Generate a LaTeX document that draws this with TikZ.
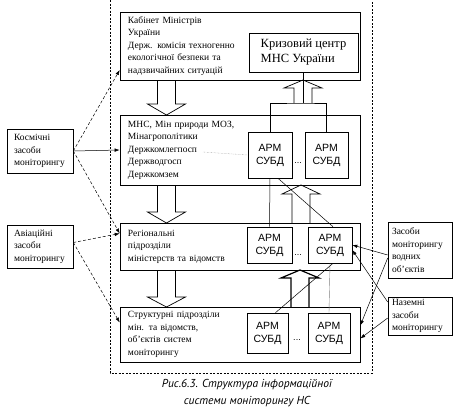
\documentclass[tikz,border=0pt]{standalone}
\usepackage{fontspec}
\setmainfont{Liberation Serif}
\newfontfamily\armfont{Liberation Sans}
\newfontfamily\capfont{PT Sans}
\usetikzlibrary{arrows.meta}

\tikzset{
  panel/.style={draw, line width=0.6pt, align=left, text width=224pt, inner xsep=8pt, inner ysep=0pt,
    font=\fontsize{9.5}{12.5}\selectfont},
  side/.style={draw, line width=0.6pt, align=left, text width=52pt, inner xsep=7pt, inner ysep=0pt,
    font=\fontsize{9.5}{12.5}\selectfont},
  arm/.style={draw, line width=0.6pt, minimum width=44pt, align=center, inner sep=0pt,
    font=\armfont\fontsize{10.5}{13}\selectfont},
  fat/.style={line width=0.7pt},
  link/.style={-{Latex[length=5pt,width=3.5pt]}, line width=0.5pt},
  frame/.style={line width=0.6pt, dash pattern=on 2pt off 1.5pt},
}
% centre x, tail y, base of head y, tip y
\newcommand{\fatarrow}[5][]{%
  \draw[fat,#1] (#2-9,#3) -- (#2-9,#4) -- (#2-19,#4) -- (#2,#5) -- (#2+19,#4) -- (#2+9,#4) -- (#2+9,#3);}

\begin{document}
\begin{tikzpicture}[x=1pt,y=-1pt]
  \useasboundingbox (0,0) rectangle (459,416);
  \draw[frame] (110,0) -- (110,373) -- (372,373) -- (372,0);

  % main levels
  \node[panel, minimum height=68pt] (kab) at (240,46)
    {Кабінет Міністрів\\України\\Держ. комісія техногенно\\екологічної безпеки та\\надзвичайних ситуацій};
  \node[draw, line width=0.6pt, minimum width=109pt, minimum height=39pt, align=left,
    font=\fontsize{12.5}{15}\selectfont] (kriz) at (303.5,52.5) {Кризовий центр\\МНС України};
  \node[panel, minimum height=70pt] (mns) at (240,150)
    {МНС, Мін природи МОЗ,\\Мінагрополітики\\Держкомлегпосп\\Держводгосп\\Держкомзем};
  \node[panel, minimum height=47pt] (reg) at (240,246.5)
    {Регіональні\\підрозділи\\міністерств та відомств};
  \node[panel, minimum height=55pt] (str) at (240,334.5)
    {Структурні підрозділи\\мін. та відомств,\\об'єктів систем\\моніторингу};

  % workstations
  \node[arm, minimum height=46pt] (arm1) at (270,155) {АРМ\\СУБД};
  \node[arm, minimum height=46pt, minimum width=43pt] (arm2) at (326.5,155) {АРМ\\СУБД};
  \node[arm, minimum height=36pt, minimum width=45pt] (arm3) at (269.5,245) {АРМ\\СУБД};
  \node[arm, minimum height=36pt] (arm4) at (330,245) {АРМ\\СУБД};
  \node[arm, minimum height=40pt, minimum width=41pt] (arm5) at (267.5,333) {АРМ\\СУБД};
  \node[arm, minimum height=40pt, minimum width=42pt] (arm6) at (329,333) {АРМ\\СУБД};
  \node[font=\armfont\fontsize{9}{9}\selectfont] (dots1) at (298,163) {...};
  \node[font=\armfont\fontsize{9}{9}\selectfont] (dots2) at (298,255) {...};
  \node[font=\armfont\fontsize{9}{9}\selectfont] (dots3) at (297,340) {...};

  % monitoring means
  \node[side, minimum height=44pt] (kosm) at (40,151) {Космічні\\засоби\\моніторингу};
  \node[side, minimum height=43pt] (avia) at (40,246.5) {Авіаційні\\засоби\\моніторингу};
  \node[side, text width=56pt, inner xsep=4pt, minimum height=56pt] (vodni) at (420,250)
    {Засоби\\моніторингу\\водних\\ об'єктів};
  \node[side, text width=56pt, inner xsep=4pt, minimum height=38pt] (nazem) at (420,316)
    {Наземні\\засоби\\моніторингу};

  % links from the means
  \draw[link, densely dashed] (kosm.east) -- ([yshift=-24pt]kab.west);
  \draw[link] (kosm.east) -- (mns.west);
  \draw[link, densely dashed] (kosm.east) -- ([yshift=13pt]reg.west);
  \draw[link, densely dashed] ([yshift=4pt]avia.east) -- ([yshift=13pt]reg.west);
  \draw[link, densely dashed] ([yshift=4pt]avia.east) -- ([yshift=12pt]str.west);
  \draw[link] ([yshift=-5pt]vodni.west) -- (arm4.east);
  \draw[link] ([yshift=-8pt]vodni.west) -- ([yshift=9pt]str.east);
  \draw[link] ([yshift=14pt]nazem.west) -- ([yshift=-5pt]arm4.east);
  \draw[link] ([yshift=-2pt]nazem.west) -- ([yshift=-4pt]str.east);

  % links between workstations
  \coordinate (fork) at (303,103);
  \coordinate (lp) at (203,152);
  \draw[line width=0.5pt] (arm1.north) |- (fork) -| (arm2.north);
  \draw[line width=0.5pt] (kriz.south) -- (kriz.south |- fork);
  \draw[gray, densely dotted] (lp) -- (arm1.west);
  \draw[line width=0.5pt] (arm1.south) -- (arm3.north);
  \draw[line width=0.5pt] ([xshift=8pt]arm1.south) -- ([xshift=3pt]arm4.north);
  \draw[gray] (arm4.south) -- (arm6.north);
  \draw[line width=0.5pt] ([xshift=3pt]arm4.south) -- ([xshift=8pt]arm5.north);

  % hollow arrows
  \fatarrow{166.5}{80}{104}{115}
  \fatarrow{166.5}{185}{212}{223}
  \fatarrow{166.5}{270}{297}{307}
  \fatarrow{303}{103}{88}{80}
  \fatarrow{301}{223}{194}{185}
  \fatarrow[line width=1.2pt]{300}{307}{278}{270}

  \node[font=\capfont\itshape\fontsize{11.5}{17}\selectfont, align=center] (cap) at (247,393)
    {Рис.6.3. Структура інформаційної\\системи моніторингу НС};
\end{tikzpicture}
\end{document}
